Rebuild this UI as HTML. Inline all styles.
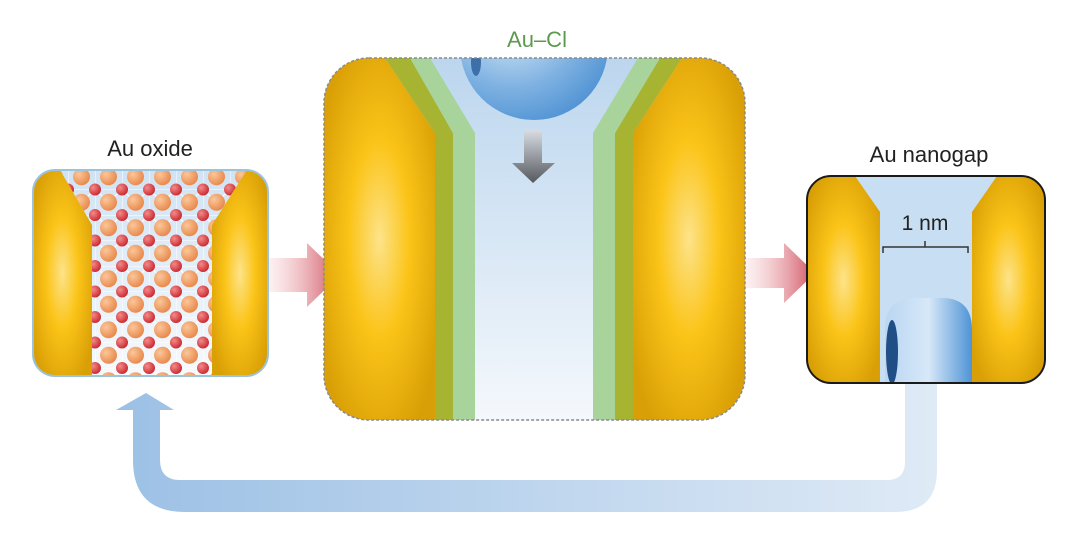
<!DOCTYPE html>
<html><head><meta charset="utf-8"><style>
html,body{margin:0;padding:0;background:#fff;}
svg{display:block;}
text{font-family:"Liberation Sans",sans-serif;}
</style></head><body>
<svg width="1072" height="538" viewBox="0 0 1072 538" xmlns="http://www.w3.org/2000/svg">
<defs>
<radialGradient id="gold" cx="0.5" cy="0.5" r="0.6">
<stop offset="0" stop-color="#fde38a"/>
<stop offset="0.45" stop-color="#fbc418"/>
<stop offset="1" stop-color="#d99f06"/>
</radialGradient>
<linearGradient id="gap" x1="0" y1="0" x2="0" y2="1">
<stop offset="0" stop-color="#bcd6ee"/>
<stop offset="1" stop-color="#f4f8fc"/>
</linearGradient>
<linearGradient id="red" x1="0" y1="0" x2="1" y2="0">
<stop offset="0" stop-color="#f6d2d6" stop-opacity="0.3"/>
<stop offset="1" stop-color="#d0505e"/>
</linearGradient>
<linearGradient id="band" x1="0" y1="0" x2="1" y2="0">
<stop offset="0" stop-color="#9cc0e5"/>
<stop offset="1" stop-color="#dfeaf6"/>
</linearGradient>
<linearGradient id="grey" x1="0" y1="0" x2="0" y2="1">
<stop offset="0" stop-color="#d8dde3"/>
<stop offset="1" stop-color="#55595e"/>
</linearGradient>
<radialGradient id="ball" cx="0.35" cy="0.3" r="0.8">
<stop offset="0" stop-color="#e6f1fb"/>
<stop offset="0.6" stop-color="#7fb2e2"/>
<stop offset="1" stop-color="#4a8fd2"/>
</radialGradient>
<linearGradient id="tube" x1="0" y1="0" x2="1" y2="0">
<stop offset="0" stop-color="#b9d6f2"/>
<stop offset="0.5" stop-color="#d7e8f8"/>
<stop offset="1" stop-color="#4f93d6"/>
</linearGradient>
<radialGradient id="orange" cx="0.35" cy="0.35" r="0.7">
<stop offset="0" stop-color="#fbc79a"/><stop offset="1" stop-color="#e8874a"/>
</radialGradient>
<radialGradient id="redb" cx="0.35" cy="0.35" r="0.7">
<stop offset="0" stop-color="#f58a8a"/><stop offset="1" stop-color="#c8282e"/>
</radialGradient>
<pattern id="lat" patternUnits="userSpaceOnUse" x="95" y="215" width="27" height="25.5">
<path d="M0 0 L13.5 -12.75 M0 0 L13.5 12.75 M27 0 L13.5 12.75 M27 0 L13.5 -12.75 M0 0 H27 M0 0 V25.5" stroke="#fff" stroke-width="1"/>
<circle cx="13.5" cy="12.75" r="8.5" fill="url(#orange)"/>
<circle cx="0" cy="0" r="6" fill="url(#redb)"/>
<circle cx="27" cy="0" r="6" fill="url(#redb)"/>
<circle cx="0" cy="25.5" r="6" fill="url(#redb)"/>
<circle cx="27" cy="25.5" r="6" fill="url(#redb)"/>
</pattern>
<clipPath id="c1"><rect x="33" y="170" width="235" height="206" rx="22"/></clipPath>
<clipPath id="c2"><rect x="324" y="58" width="421" height="362" rx="45"/></clipPath>
<clipPath id="c3"><rect x="807" y="176" width="238" height="207" rx="24"/></clipPath>
</defs>

<!-- loop arrow -->
<path d="M905 384 V462 Q905 480 887 480 H180 Q160 480 160 460 V410 H174 L146 393 L116 410 H133 V460 Q133 512 185 512 H895 Q937 512 937 470 V384 Z" fill="url(#band)"/>

<!-- red arrows -->
<path d="M268 258 H307 V243 L340 275 L307 307 V292 H268 Z" fill="url(#red)"/>
<path d="M745 258 H784 V243 L815 273 L784 303 V288 H745 Z" fill="url(#red)"/>

<!-- Left box -->
<g clip-path="url(#c1)">
<rect x="33" y="170" width="235" height="206" fill="url(#gap)"/>
<path d="M60 170 L92 225 V376 H212 V225 L247 170 Z" fill="#fff" opacity="0.3"/>
<path d="M60 170 L92 225 V376 H212 V225 L247 170 Z" fill="url(#lat)"/>
<path d="M33 170 H60 L92 225 V376 H33 Z" fill="url(#gold)"/>
<path d="M268 170 H247 L212 225 V376 H268 Z" fill="url(#gold)"/>
</g>
<rect x="33" y="170" width="235" height="206" rx="22" fill="none" stroke="#9cc3dc" stroke-width="2"/>

<!-- Middle box -->
<g clip-path="url(#c2)">
<rect x="324" y="58" width="421" height="362" fill="url(#gap)"/>
<path d="M324 58 H385 L435 133 V420 H324 Z" fill="url(#gold)"/>
<path d="M385 58 H410 L453 133 V420 H435 V133 Z" fill="#a6b431"/>
<path d="M410 58 H430 L475 133 V420 H453 V133 Z" fill="#a8d39a"/>
<path d="M745 58 H682 L633 133 V420 H745 Z" fill="url(#gold)"/>
<path d="M682 58 H660 L615 133 V420 H633 V133 Z" fill="#a6b431"/>
<path d="M660 58 H638 L593 133 V420 H615 V133 Z" fill="#a8d39a"/>
<circle cx="534" cy="46" r="74" fill="url(#ball)"/>
<ellipse cx="476" cy="62" rx="5" ry="14" fill="#3d6fa8"/>
<path d="M524 130 H542 V163 H555 L533 183 L512 163 H524 Z" fill="url(#grey)"/>
</g>
<rect x="324" y="58" width="421" height="362" rx="45" fill="none" stroke="#8a8a8a" stroke-width="1.5" stroke-dasharray="3,2"/>

<!-- Right box -->
<g clip-path="url(#c3)">
<rect x="807" y="176" width="238" height="207" fill="#c8def2"/>
<path d="M807 176 H855 L880 212 V384 H807 Z" fill="url(#gold)"/>
<path d="M1045 176 H997 L972 212 V384 H1045 Z" fill="url(#gold)"/>
<path d="M885 384 V330 Q885 298 915 298 H942 Q972 298 972 330 V384 Z" fill="url(#tube)"/>
<ellipse cx="892" cy="352" rx="6" ry="32" fill="#1f4f86"/>
</g>
<rect x="807" y="176" width="238" height="207" rx="24" fill="none" stroke="#1a1a1a" stroke-width="2"/>
<path d="M883 253 V247 H968 V253 M925 247 V241" fill="none" stroke="#333" stroke-width="1.5"/>
<text x="925" y="230" font-size="21" text-anchor="middle" fill="#222">1 nm</text>

<!-- labels -->
<text x="150" y="156" font-size="22" text-anchor="middle" fill="#222">Au oxide</text>
<text x="537" y="47" font-size="22" text-anchor="middle" fill="#5d9a4d">Au–Cl</text>
<text x="929" y="162" font-size="22" text-anchor="middle" fill="#222">Au nanogap</text>
</svg>
</body></html>
